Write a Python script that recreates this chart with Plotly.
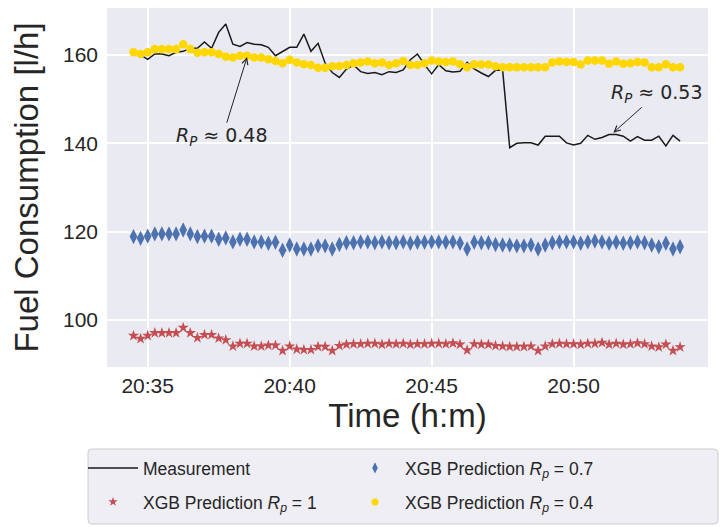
import pandas as pd
import plotly.graph_objects as go

# ---- data ----
start_time = "2020-01-01 20:34:30"
sample_period = "15s"
n_samples = 78

measurement = [160.4, 160.0, 159.0, 160.2, 160.2, 159.8, 160.6, 160.8, 161.5, 161.5,
               162.9, 161.5, 165.1, 167.0, 162.4, 161.9, 162.8, 162.4, 162.3, 161.7,
               159.8, 160.8, 161.7, 161.7, 164.7, 160.8, 162.6, 158.1, 156.0, 154.9,
               156.8, 157.7, 156.2, 155.8, 156.0, 155.5, 156.2, 156.0, 156.6, 158.9,
               160.2, 157.8, 155.7, 157.8, 156.4, 156.1, 156.3, 158.3, 156.8, 155.9,
               155.1, 156.5, 156.6, 139.0, 140.0, 140.1, 140.1, 139.6, 141.6, 141.6,
               141.6, 140.1, 139.6, 140.0, 141.8, 140.9, 141.3, 142.0, 142.0, 141.6,
               140.5, 141.5, 140.7, 140.7, 141.6, 139.4, 141.8, 140.5]

pred_rp_1 = [96.5, 95.8, 96.5, 97.1, 97.1, 97.1, 97.1, 98.3, 97.1, 96.0,
             96.7, 96.7, 95.9, 95.5, 94.1, 94.7, 94.7, 94.1, 94.1, 94.3,
             94.3, 93.1, 94.1, 93.4, 93.3, 93.3, 94.0, 94.0, 93.1, 94.2,
             94.5, 94.6, 94.6, 94.7, 94.7, 94.5, 94.7, 94.6, 94.7, 94.5,
             94.6, 94.6, 94.7, 94.7, 94.6, 94.8, 94.5, 93.2, 94.6, 94.5,
             94.5, 94.2, 94.1, 94.0, 94.0, 94.0, 94.1, 93.1, 94.1, 94.6,
             94.7, 94.6, 94.6, 94.5, 94.7, 94.7, 94.9, 94.5, 94.7, 94.5,
             94.6, 94.8, 94.6, 94.1, 93.9, 94.5, 93.1, 93.9]

pred_rp_07 = [118.9, 118.5, 119.0, 119.5, 119.5, 119.5, 119.5, 120.4, 119.5, 118.9,
              119.0, 119.0, 118.3, 118.6, 117.7, 118.3, 118.3, 117.7, 117.7, 117.4,
              117.6, 115.8, 117.0, 116.1, 116.1, 116.1, 116.8, 116.8, 116.1, 117.1,
              117.5, 117.5, 117.7, 117.7, 117.5, 117.7, 117.5, 117.5, 117.7, 117.4,
              117.6, 117.6, 117.7, 117.7, 117.6, 117.7, 117.4, 116.1, 117.6, 117.5,
              117.5, 117.1, 117.0, 117.0, 116.8, 116.8, 117.0, 116.1, 117.0, 117.5,
              117.7, 117.7, 117.7, 117.4, 117.7, 117.9, 117.7, 117.4, 117.6, 117.4,
              117.5, 117.7, 117.5, 117.0, 116.6, 117.4, 116.1, 116.6]

pred_rp_04 = [160.6, 160.2, 160.6, 161.3, 161.3, 161.3, 161.3, 162.4, 161.3, 160.5,
              160.6, 160.6, 160.2, 159.6, 159.4, 159.8, 159.8, 159.4, 159.4, 159.0,
              158.6, 158.1, 158.9, 158.3, 157.9, 157.7, 157.1, 157.1, 157.4, 157.5,
              157.7, 158.1, 158.3, 158.5, 158.1, 158.3, 157.7, 158.1, 158.6, 157.7,
              157.7, 158.1, 158.7, 158.5, 158.4, 158.5, 157.9, 157.2, 157.9, 157.8,
              157.8, 157.4, 157.2, 157.2, 157.2, 157.2, 157.2, 157.2, 157.2, 158.3,
              158.5, 158.4, 158.4, 157.8, 158.7, 158.7, 158.7, 158.0, 158.5, 158.0,
              158.1, 158.4, 158.3, 157.2, 157.2, 157.9, 157.2, 157.2]

series_names = ["Measurement",
                "XGB Prediction <i>R<sub>p</sub></i> = 1",
                "XGB Prediction <i>R<sub>p</sub></i> = 0.7",
                "XGB Prediction <i>R<sub>p</sub></i> = 0.4"]

x_tick_start = "2020-01-01 20:35:00"
x_range = ["2020-01-01 20:33:34", "2020-01-01 20:54:44"]
y_range = [89.4, 170.6]
y_ticks = [100, 120, 140, 160]

# annotations: (text, text position time, text y, arrow tip time, tip y)
annot_048 = ("<i>R<sub>P</sub></i> ≈ 0.48", "2020-01-01 20:37:38", 141.5, "2020-01-01 20:38:30", 159.5)
annot_053 = ("<i>R<sub>P</sub></i> ≈ 0.53", "2020-01-01 20:52:57", 151.3, "2020-01-01 20:51:24", 142.4)

times = pd.date_range(start=start_time, periods=n_samples, freq=sample_period)

TXT = "#262626"
FONT = "Liberation Sans, Arial, sans-serif"
MATHFONT = "DejaVu Sans, sans-serif"

# page body has an 8px margin -> figure is 8px smaller and offset
W, H = 719, 519
PL, PR, PT, PB = 99, 19, 0, 160
pw, ph = W - PL - PR, H - PT - PB


def px_x(page_x):
    return (page_x - 8 - PL) / pw


def px_y(page_y):
    return (H - PB - (page_y - 8)) / ph


fig = go.Figure()
fig.add_trace(go.Scatter(x=times, y=measurement, mode="lines", name=series_names[0],
                         line=dict(color="#1a1a1a", width=1.5), showlegend=False))
fig.add_trace(go.Scatter(x=times, y=pred_rp_1, mode="markers", name=series_names[1],
                         marker=dict(symbol="star", size=8.5, color="#c44e52"), showlegend=False))
fig.add_trace(go.Scatter(x=times, y=pred_rp_07, mode="markers", name=series_names[2],
                         marker=dict(symbol="diamond-tall", size=11, color="#4c72b0"), showlegend=False))
fig.add_trace(go.Scatter(x=times, y=pred_rp_04, mode="markers", name=series_names[3],
                         marker=dict(symbol="circle", size=8.5, color="#ffd700"), showlegend=False))

# legend entries (no data, legend only, smaller symbols as in the reference legend)
legend_styles = [
    dict(mode="lines", line=dict(color="#1a1a1a", width=1.5)),
    dict(mode="markers", marker=dict(symbol="star", size=7, color="#c44e52")),
    dict(mode="markers", marker=dict(symbol="diamond-tall", size=8, color="#4c72b0")),
    dict(mode="markers", marker=dict(symbol="circle", size=7, color="#ffd700")),
]
legend_ids = ["legend", "legend2", "legend3", "legend4"]
legend_pos = [(83, 468), (83, 502), (345, 468), (345, 502)]  # page px of item origin, row centre
for name, style, lid in zip(series_names, legend_styles, legend_ids):
    fig.add_trace(go.Scatter(x=[None], y=[None], name=name, showlegend=True, legend=lid,
                             hoverinfo="skip", **style))

legend_layout = {}
for lid, (lx, ly) in zip(legend_ids, legend_pos):
    legend_layout[lid] = dict(x=px_x(lx), y=px_y(ly), xanchor="left", yanchor="middle",
                              bgcolor="rgba(0,0,0,0)", borderwidth=0, itemwidth=50,
                              font=dict(size=17.5, color=TXT, family=FONT))

# legend frame
bx0, bx1 = px_x(88), px_x(718)
by0, by1 = px_y(524), px_y(449)
rx, ry = 4 / pw, 4 / ph
frame = (f"M{bx0 + rx},{by0} L{bx1 - rx},{by0} Q{bx1},{by0} {bx1},{by0 + ry} "
         f"L{bx1},{by1 - ry} Q{bx1},{by1} {bx1 - rx},{by1} L{bx0 + rx},{by1} "
         f"Q{bx0},{by1} {bx0},{by1 - ry} L{bx0},{by0 + ry} Q{bx0},{by0} {bx0 + rx},{by0} Z")
fig.add_shape(type="path", path=frame, xref="paper", yref="paper",
              fillcolor="#eeeef4", line=dict(color="#cccccc", width=1), layer="below")

for text, tx, ty, px_, py_ in (annot_048, annot_053):
    fig.add_annotation(x=px_, y=py_, ax=tx, ay=ty, xref="x", yref="y", axref="x", ayref="y",
                       text=text, showarrow=True, arrowhead=5, arrowsize=1.2, arrowwidth=1,
                       arrowcolor="#262626", font=dict(size=19, color=TXT, family=MATHFONT))

fig.update_layout(
    width=W, height=H,
    margin=dict(l=PL, r=PR, t=PT, b=PB, autoexpand=False),
    paper_bgcolor="white", plot_bgcolor="#eaeaf2",
    font=dict(family=FONT, color=TXT, size=21),
    showlegend=True,
    **legend_layout,
)
fig.update_xaxes(type="date", range=x_range, tick0=x_tick_start, dtick=300000, tickformat="%H:%M",
                 showgrid=True, gridcolor="white", gridwidth=1.5, zeroline=False, showline=False,
                 ticks="", tickfont=dict(size=21, color=TXT), ticklabelstandoff=4,
                 title=dict(text="Time (h:m)", font=dict(size=33, color=TXT), standoff=0))
fig.update_yaxes(range=y_range, tickvals=y_ticks, showgrid=True, gridcolor="white", gridwidth=1.5,
                 zeroline=False, showline=False, ticks="", tickfont=dict(size=21, color=TXT),
                 ticklabelstandoff=8,
                 title=dict(text="Fuel Consumption [l/h]", font=dict(size=33, color=TXT), standoff=19))

fig.write_html("out.html")
